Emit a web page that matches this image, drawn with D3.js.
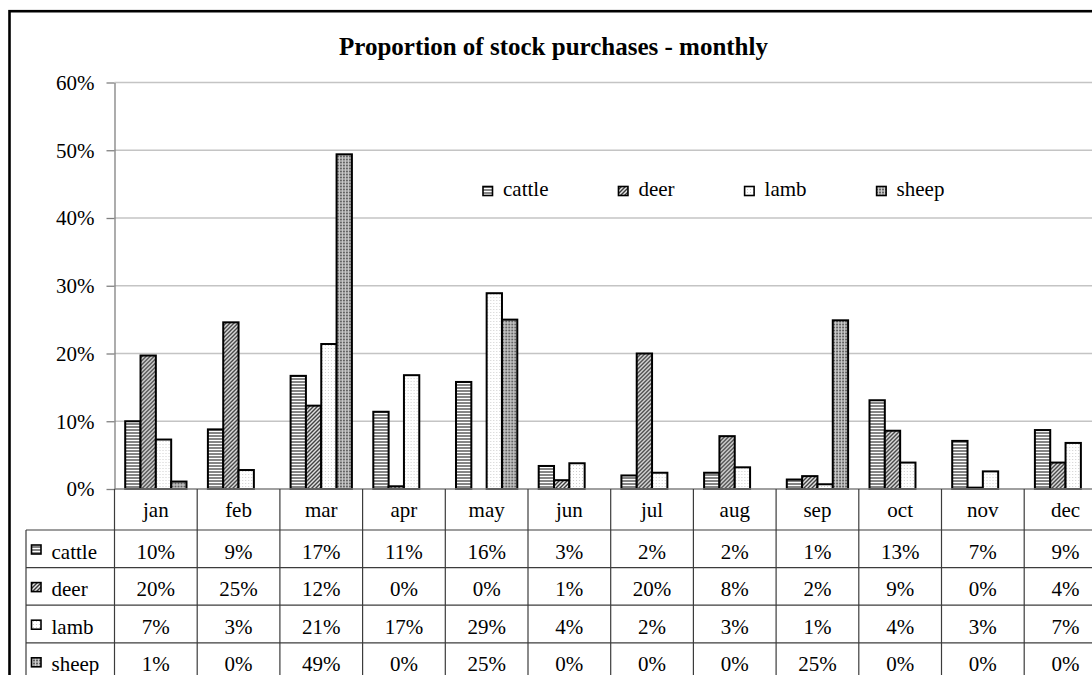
<!DOCTYPE html>
<html>
<head>
<meta charset="utf-8">
<script src="https://cdn.jsdelivr.net/npm/d3@7"></script>
<style>
  body { margin: 0; background: #fff; }
  svg { display: block; }
  svg text { font-family: "Liberation Serif", "Times New Roman", serif; }
</style>
</head>
<body>
<svg id="chart" width="1092" height="675"></svg>
<script>
// data
var months = ["jan", "feb", "mar", "apr", "may", "jun", "jul", "aug", "sep", "oct", "nov", "dec"];
var seriesNames = ["cattle", "deer", "lamb", "sheep"];
var cattle = [0.100, 0.088, 0.167, 0.114, 0.158, 0.034, 0.020, 0.024, 0.014, 0.131, 0.071, 0.087];
var deer   = [0.197, 0.246, 0.123, 0.004, 0.000, 0.013, 0.200, 0.078, 0.019, 0.086, 0.002, 0.039];
var lamb   = [0.073, 0.028, 0.214, 0.168, 0.289, 0.038, 0.024, 0.032, 0.007, 0.039, 0.026, 0.068];
var sheep  = [0.011, 0.000, 0.494, 0.000, 0.250, 0.000, 0.000, 0.000, 0.249, 0.000, 0.000, 0.000];
var yTicks = [0, 0.1, 0.2, 0.3, 0.4, 0.5, 0.6];
var title = "Proportion of stock purchases - monthly";

var values = { cattle: cattle, deer: deer, lamb: lamb, sheep: sheep };
var pct = d3.format(".0%");
var serif = "'Liberation Serif', 'Times New Roman', serif";

var svg = d3.select("#chart");
var defs = svg.append("defs");

// fill patterns, one per series
var pCattle = defs.append("pattern").attr("id", "p-cattle")
  .attr("patternUnits", "userSpaceOnUse").attr("width", 4).attr("height", 3);
pCattle.append("rect").attr("width", 4).attr("height", 3).attr("fill", "#fff");
pCattle.append("rect").attr("width", 4).attr("height", 2).attr("fill", "#858585");

var pDeer = defs.append("pattern").attr("id", "p-deer")
  .attr("patternUnits", "userSpaceOnUse").attr("width", 4).attr("height", 4);
pDeer.append("rect").attr("width", 4).attr("height", 4).attr("fill", "#e8e8e8");
pDeer.append("path").attr("d", "M-1,1 l2,-2 M0,4 l4,-4 M3,5 l2,-2")
  .attr("stroke", "#3a3a3a").attr("stroke-width", 1.4);

var pLamb = defs.append("pattern").attr("id", "p-lamb")
  .attr("patternUnits", "userSpaceOnUse").attr("width", 3).attr("height", 3);
pLamb.append("rect").attr("width", 3).attr("height", 3).attr("fill", "#fff");
pLamb.append("rect").attr("width", 1).attr("height", 1).attr("fill", "#cfcfcf");

var pSheep = defs.append("pattern").attr("id", "p-sheep")
  .attr("patternUnits", "userSpaceOnUse").attr("width", 3).attr("height", 3);
pSheep.append("rect").attr("width", 3).attr("height", 3).attr("fill", "#a0a0a0");
pSheep.append("rect").attr("width", 3).attr("height", 1).attr("fill", "#626262");
pSheep.append("rect").attr("x", 2).attr("width", 1).attr("height", 3).attr("fill", "#cdcdcd");

function fillOf(name) { return "url(#p-" + name + ")"; }

// layout
var plotLeft = 114.5, step = 82.7;
var plotRight = plotLeft + step * months.length;
var baseY = 489, topY = 82.5;
var headerBottom = 530, rowH = 37.6, tableLeft = 26;

var x0 = d3.scaleBand().domain(months).range([plotLeft, plotRight]).padding(0);
var x1 = d3.scaleBand().domain(seriesNames).range([10.7, step - 10.7]).padding(0);
var y = d3.scaleLinear().domain([0, 0.6]).range([baseY, topY]);

// outer chart border (right and bottom fall outside the window)
svg.append("rect")
  .attr("x", 9.5).attr("y", 11.2)
  .attr("width", 1120).attr("height", 720)
  .attr("fill", "none").attr("stroke", "#000").attr("stroke-width", 2.6);

// title
svg.append("text")
  .attr("x", 553.5).attr("y", 54.5)
  .attr("text-anchor", "middle")
  .style("font-family", serif)
  .attr("font-size", 25).attr("font-weight", "bold")
  .text(title);

// gridlines
svg.append("g").selectAll("line")
  .data(yTicks.filter(function(d) { return d > 0; }))
  .join("line")
  .attr("x1", plotLeft).attr("x2", plotRight)
  .attr("y1", function(d) { return y(d); }).attr("y2", function(d) { return y(d); })
  .attr("stroke", "#c4c4c4").attr("stroke-width", 1.3);

// y axis
var yAxis = svg.append("g")
  .attr("transform", "translate(" + plotLeft + ",0)")
  .call(d3.axisLeft(y).tickValues(yTicks).tickFormat(pct).tickSize(8).tickSizeOuter(0).tickPadding(12));
yAxis.attr("font-family", null);
yAxis.select(".domain").attr("stroke", "#808080").attr("stroke-width", 1.3);
yAxis.selectAll(".tick line").attr("stroke", "#808080").attr("stroke-width", 1.3);
yAxis.selectAll(".tick text")
  .style("font-family", serif)
  .attr("font-size", 21).attr("fill", "#000").attr("dy", "0.33em");

// bars
var barG = svg.append("g");
months.forEach(function(m, i) {
  barG.append("g")
    .attr("transform", "translate(" + x0(m) + ",0)")
    .selectAll("rect")
    .data(seriesNames.map(function(s) { return { s: s, v: values[s][i] }; }).filter(function(d) { return d.v > 0; }))
    .join("rect")
    .attr("x", function(d) { return x1(d.s); })
    .attr("y", function(d) { return y(d.v); })
    .attr("width", x1.bandwidth())
    .attr("height", function(d) { return baseY - y(d.v); })
    .attr("fill", function(d) { return fillOf(d.s); })
    .attr("stroke", "#000").attr("stroke-width", 2);
});

// x axis line
svg.append("line")
  .attr("x1", plotLeft).attr("x2", plotRight)
  .attr("y1", baseY).attr("y2", baseY)
  .attr("stroke", "#808080").attr("stroke-width", 1.3);

// legend inside the plot
var legend = svg.append("g");
var lx = 483;
seriesNames.forEach(function(s) {
  legend.append("rect")
    .attr("x", lx).attr("y", 186.5).attr("width", 9.5).attr("height", 9)
    .attr("fill", fillOf(s)).attr("stroke", "#000").attr("stroke-width", 1.6);
  var t = legend.append("text")
    .attr("x", lx + 20).attr("y", 196)
    .style("font-family", serif)
    .attr("font-size", 21)
    .text(s);
  lx = lx + 20 + t.node().getComputedTextLength() + 70;
});

// data table
var table = svg.append("g").attr("stroke", "#3c3c3c").attr("stroke-width", 1.2);
var tableBottom = headerBottom + rowH * seriesNames.length;
// horizontal lines
d3.range(seriesNames.length + 1).forEach(function(r) {
  table.append("line")
    .attr("x1", tableLeft).attr("x2", plotRight)
    .attr("y1", headerBottom + r * rowH).attr("y2", headerBottom + r * rowH);
});
// vertical lines at category boundaries
table.selectAll(".vline")
  .data(months.concat(["end"]))
  .join("line")
  .attr("x1", function(d, i) { return plotLeft + i * step; })
  .attr("x2", function(d, i) { return plotLeft + i * step; })
  .attr("y1", baseY).attr("y2", tableBottom + 20);
table.append("line")
  .attr("x1", tableLeft).attr("x2", tableLeft)
  .attr("y1", headerBottom).attr("y2", tableBottom + 20);

// month header
svg.append("g").selectAll("text")
  .data(months)
  .join("text")
  .attr("x", function(d) { return x0(d) + step / 2; })
  .attr("y", baseY + 28)
  .attr("text-anchor", "middle")
  .style("font-family", serif)
  .attr("font-size", 21)
  .text(function(d) { return d; });

// rows
seriesNames.forEach(function(s, r) {
  var rowTop = headerBottom + r * rowH;
  svg.append("rect")
    .attr("x", 31.5).attr("y", rowTop + 15).attr("width", 9.5).attr("height", 9)
    .attr("fill", fillOf(s)).attr("stroke", "#000").attr("stroke-width", 1.6);
  svg.append("text")
    .attr("x", 51.5).attr("y", rowTop + 28.5)
    .style("font-family", serif)
    .attr("font-size", 21)
    .text(s);
  svg.append("g").selectAll("text")
    .data(values[s])
    .join("text")
    .attr("x", function(d, i) { return x0(months[i]) + step / 2; })
    .attr("y", rowTop + 28.5)
    .attr("text-anchor", "middle")
    .style("font-family", serif)
    .attr("font-size", 21)
    .text(function(d) { return pct(d); });
});
</script>
</body>
</html>
